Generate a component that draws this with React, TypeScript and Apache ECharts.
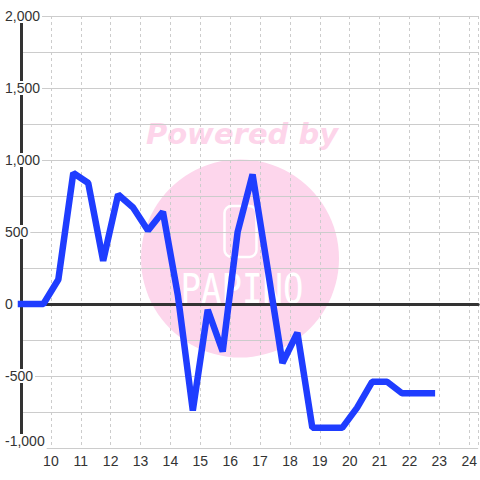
import React, { useEffect, useRef } from 'react';
import * as echarts from 'echarts';

// x positions (hours) and values of the single line series
const hours = [9, 9.75, 10.25, 10.75, 11.25, 11.75, 12.25, 12.75, 13.25, 13.75, 14.25, 14.75, 15.25, 15.75, 16.25, 16.75, 17.25, 17.75, 18.25, 18.75, 19.25, 19.75, 20.25, 20.75, 21.25, 21.75, 22.25, 22.75];
const values = [0, 0, 170, 910, 840, 300, 760, 670, 510, 640, 60, -740, -40, -330, 500, 900, 250, -410, -200, -860, -860, -860, -720, -540, -540, -620, -620, -620];

const xRange = [9, 24.3];
const yRange = [-1000, 2000];
const yStep = 250;
const yLabelStep = 500;

const fmt = (v: number) => {
  const s = Math.abs(v).toString().replace(/\B(?=(\d{3})+(?!\d))/g, ',');
  return (v < 0 ? '-' : '') + s;
};

export default function App() {
  const ref = useRef<HTMLDivElement>(null);
  useEffect(() => {
    document.body.style.margin = '0';
    if (!ref.current) return;
    const chart = echarts.init(ref.current, undefined, { renderer: 'svg' });
    const font = 'Liberation Sans, Arial, sans-serif';
    chart.setOption({
      animation: false,
      backgroundColor: '#ffffff',
      textStyle: { fontFamily: font },
      grid: { left: 21, right: 0, top: 16, bottom: 32, containLabel: false },
      graphic: [
        {
          type: 'circle', z: -10, silent: true,
          shape: { cx: 240, cy: 258.5, r: 99 },
          style: { fill: '#fdd6ec' },
        },
        {
          type: 'rect', z: -9, silent: true,
          shape: { x: 224.5, y: 206, width: 32, height: 51, r: 7 },
          style: { fill: 'none', stroke: '#ffffff', lineWidth: 2.5 },
        },
        {
          type: 'text', z: -9, silent: true, x: 242, y: 289, scaleY: 1.2,
          style: {
            text: 'PAPINO', fill: '#ffffff',
            font: 'normal 34px "DejaVu Sans Mono", monospace',
            textAlign: 'center', textVerticalAlign: 'middle',
          },
        },
        {
          type: 'text', z: -9, silent: true, x: 242, y: 134,
          style: {
            text: 'Powered by', fill: '#fdd5ea',
            font: 'italic bold 29px "DejaVu Sans", sans-serif',
            textAlign: 'center', textVerticalAlign: 'middle',
          },
        },
      ],
      xAxis: [
        {
          type: 'value', min: xRange[0], max: xRange[1], interval: 1, position: 'bottom',
          axisLine: { show: false, onZero: false },
          axisTick: { show: false },
          axisLabel: { color: '#333', fontSize: 14, margin: 6, showMinLabel: false, showMaxLabel: false },
          splitLine: { show: true, lineStyle: { color: '#cccccc', width: 1, type: [3, 3] } },
        },
        {
          type: 'value', min: xRange[0], max: xRange[1], interval: 1, position: 'top',
          axisLine: { show: true, onZero: true, lineStyle: { color: '#333', width: 3 } },
          axisTick: { show: false },
          axisLabel: { show: false },
          splitLine: { show: false },
        },
      ],
      yAxis: {
        type: 'value', min: yRange[0], max: yRange[1], interval: yStep, position: 'left',
        axisLine: { show: true, onZero: false, lineStyle: { color: '#333', width: 3 } },
        axisTick: { show: false },
        axisLabel: {
          color: '#333', fontSize: 14, margin: 18, align: 'left',
          backgroundColor: '#ffffff', padding: [0, 2, 0, 2],
          formatter: (v: number) => {
            if (v % yLabelStep !== 0) return '';
            if (v === yRange[0]) return '{m|' + fmt(v) + '}';
            return fmt(v);
          },
          rich: { m: { color: '#333', fontSize: 14, padding: [0, 0, 14, 0] } },
        },
        splitLine: { show: true, lineStyle: { color: '#cccccc', width: 1 } },
      },
      series: [
        {
          type: 'line',
          xAxisIndex: 0,
          data: hours.map((h, i) => [h, values[i]]),
          showSymbol: false,
          clip: false,
          lineStyle: { color: '#1f3dff', width: 6.5, cap: 'square' },
          z: 3,
        },
      ],
    });
    return () => chart.dispose();
  }, []);
  return <div ref={ref} style={{ width: 480, height: 480 }} />;
}
